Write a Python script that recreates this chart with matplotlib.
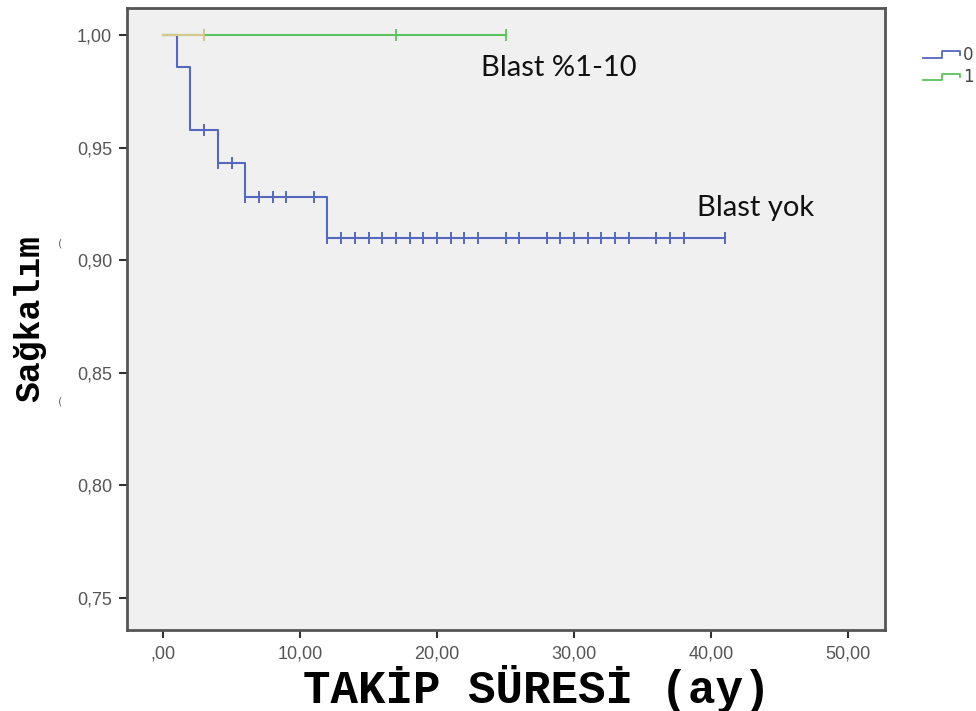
import numpy as np
import matplotlib
matplotlib.use('Agg')
import matplotlib.pyplot as plt
from matplotlib.lines import Line2D
from matplotlib.legend_handler import HandlerBase

# group 0 (Blast yok)
t0 = [0, 1, 2, 4, 6, 12, 41]
s0 = [1.0, 0.986, 0.958, 0.943, 0.928, 0.910, 0.910]
c0 = [3, 4, 5, 6, 7, 8, 9, 11, 12, 13, 14, 15, 16, 17, 18, 19, 20, 21, 22, 23,
      25, 26, 28, 29, 30, 31, 32, 33, 34, 36, 37, 38, 41]

# group 1 (Blast %1-10)
t1 = [0, 25]
s1 = [1.0, 1.0]
c1 = [3, 17, 25]

xticks = [0, 10, 20, 30, 40, 50]
xtlabels = [',00', '10,00', '20,00', '30,00', '40,00', '50,00']
yticks = [0.75, 0.80, 0.85, 0.90, 0.95, 1.00]
ytlabels = ['0,75', '0,80', '0,85', '0,90', '0,95', '1,00']

blue = '#5468bd'
green = '#5cc35c'
tan = '#d6c98e'


def survAt(times, surv, t):
    i = np.searchsorted(times, t, side='right') - 1
    return np.array(surv)[i]


class StepHandler(HandlerBase):
    def create_artists(self, legend, orig, xd, yd, w, h, fs, trans):
        xs = [0, 0.5 * w, 0.5 * w, w, w]
        ys = [0.2 * h, 0.2 * h, 0.75 * h, 0.75 * h, 0.45 * h]
        ln = Line2D(xs, ys, color=orig.get_color(), lw=1.3)
        ln.set_transform(trans)
        return [ln]


fig = plt.figure(figsize=(9.76, 7.11), dpi=100)
ax = fig.add_axes([0.1306, 0.114, 0.7762, 0.8747])
ax.set_facecolor('#f0f0f0')

# green curve, first part drawn in tan (overlap with blue)
ax.step(t1, s1, where='post', color=green, lw=1.5, zorder=2)
ax.plot([t1[0], c1[0]], [s1[0], s1[0]], color=tan, lw=1.5, zorder=3)
ax.plot(c1, survAt(t1, s1, c1), ls='none', marker='|', ms=9, mew=1.3,
        color=green, zorder=3)
ax.plot(c1[:1], survAt(t1, s1, c1[:1]), ls='none', marker='|', ms=9, mew=1.3,
        color=tan, zorder=4)

ax.step(t0, s0, where='post', color=blue, lw=1.5, zorder=2)
ax.plot(c0, survAt(t0, s0, c0), ls='none', marker='|', ms=9, mew=1.4,
        color=blue, zorder=3)

ax.set_xlim(-2.6, 52.7)
ax.set_ylim(0.7358, 1.012)
ax.set_xticks(xticks)
ax.set_xticklabels(xtlabels, family='Liberation Sans')
ax.set_yticks(yticks)
ax.set_yticklabels(ytlabels, family='Liberation Sans')
ax.tick_params(direction='out', length=6, width=1.5, color='#333333',
               labelcolor='#555555', labelsize=13, pad=5)
for sp in ax.spines.values():
    sp.set_color('#555555')
    sp.set_linewidth(2)

ax.text(23.2, 0.9853, 'Blast %1-10', fontsize=21, family='Lato', color='#111111',
        va='center', ha='left')
ax.text(39.0, 0.9232, 'Blast yok', fontsize=21, family='Lato', color='#111111',
        va='center', ha='left')

ax.set_xlabel('TAKİP SÜRESİ (ay)', family='Liberation Mono', fontweight='bold',
              fontsize=33)
ax.xaxis.set_label_coords(0.54, -0.056)
ax.set_ylabel('Sağkalım', family='Liberation Mono', fontweight='bold',
              fontsize=25, labelpad=22)

fig.text(0.062, 0.658, '(', fontsize=8, color='#666666', ha='center', va='center')
fig.text(0.062, 0.435, '(', fontsize=8, color='#666666', ha='center', va='center')

h0 = Line2D([], [], color=blue)
h1 = Line2D([], [], color=green)
fig.legend([h0, h1], ['0', '1'], handler_map={Line2D: StepHandler()},
           loc='upper left', bbox_to_anchor=(0.946, 0.935), frameon=False,
           fontsize=12, labelcolor='#444444', handlelength=2.2,
           handletextpad=0.2, labelspacing=0.25, borderpad=0,
           borderaxespad=0)

fig.savefig('out.png', dpi=100)
